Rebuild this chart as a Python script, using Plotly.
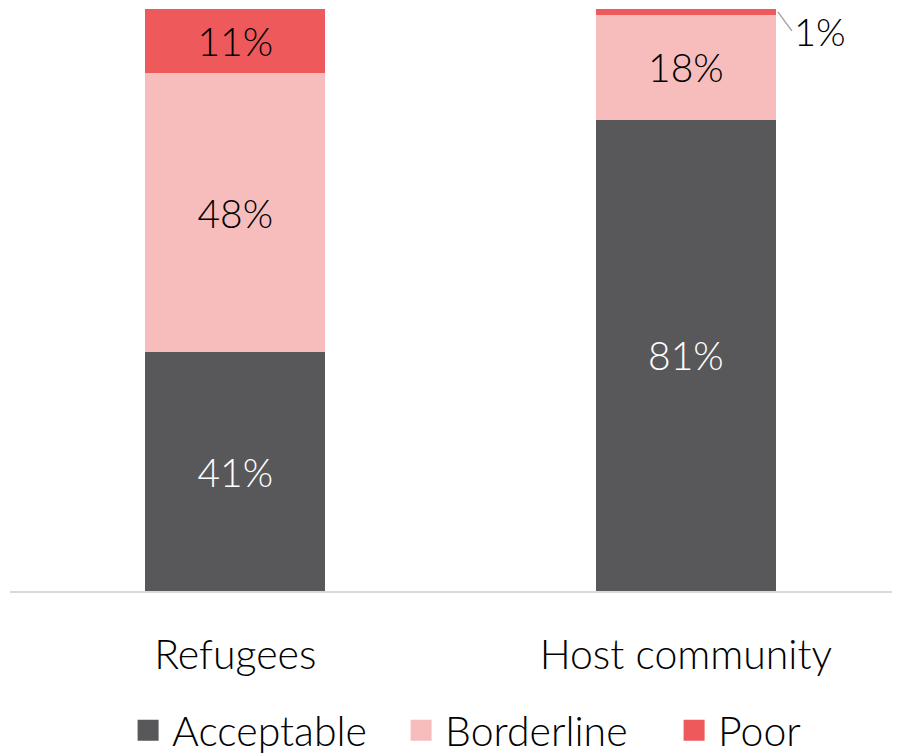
import plotly.graph_objects as go

# -- Daten ---------------------------------------------------------------------
groups = ["Refugees", "Host community"]
acceptable = [41, 81]
borderline = [48, 18]
poor = [11, 1]

series = [
    ("Acceptable", acceptable, "#58585A", "white"),
    ("Borderline", borderline, "#F7BDBD", "black"),
    ("Poor", poor, "#EE5A5C", "black"),
]

FONT = "Lato"
W = 300

# -- Plot ----------------------------------------------------------------------
fig = go.Figure()

for name, vals, color, txtcol in series:
    fig.add_trace(go.Bar(
        x=groups, y=vals, name=name, showlegend=False,
        marker=dict(color=color, line=dict(width=0)),
        text=[f"{v}%" if v >= 5 else "" for v in vals],
        textposition="inside", insidetextanchor="middle",
        textfont=dict(family=FONT, size=39, color=txtcol, weight=W),
        width=0.4,
    ))
    # Legende mit großen Quadraten (Marker 16 + Rand)
    fig.add_trace(go.Scatter(
        x=[None], y=[None], mode="markers", name=name,
        marker=dict(symbol="square", size=16, color=color,
                    line=dict(color=color, width=5)),
    ))

# kleine Segmente: Beschriftung außerhalb mit Führungslinie
base = [a + b for a, b in zip(acceptable, borderline)]
for g, b, v in zip(groups, base, poor):
    if v < 5:
        fig.add_annotation(
            x=g, y=b + v / 2, xref="x", yref="y",
            text=f"{v}%", showarrow=True, arrowhead=0, arrowwidth=1.5,
            arrowcolor="#A6A6A6", ax=14, ay=19, xshift=92,
            xanchor="left", yanchor="middle",
            font=dict(family=FONT, size=38, color="black", weight=W),
        )

fig.update_layout(
    width=900, height=755,
    margin=dict(l=2, r=0, t=1, b=172, autoexpand=False),
    barmode="stack",
    plot_bgcolor="white", paper_bgcolor="white",
    font=dict(family=FONT, color="black", weight=W),
    showlegend=True,
    legend=dict(orientation="h", xref="container", yref="container",
                x=0.129, xanchor="left", y=0.043, yanchor="middle",
                font=dict(family=FONT, size=41, weight=W),
                itemwidth=38, entrywidth=220, traceorder="normal"),
    xaxis=dict(range=[-0.5, 1.493], showline=True, linecolor="#D9D9D9", linewidth=2,
               tickfont=dict(family=FONT, size=41, weight=W),
               ticks="", ticklabelstandoff=27),
    yaxis=dict(range=[0, 100], visible=False),
)

fig.write_html("out.html")
